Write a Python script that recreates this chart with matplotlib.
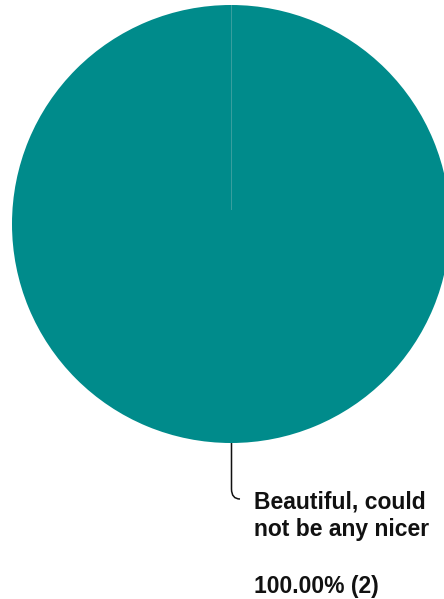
import textwrap
import matplotlib
matplotlib.use("Agg")
import matplotlib.pyplot as plt
from matplotlib.path import Path
from matplotlib.patches import PathPatch

# Survey response counts
categories = ["Beautiful, could not be any nicer"]
counts = [2]
colors = ["#008B8B"]

W, H = 444, 599
fig = plt.figure(figsize=(W / 100, H / 100), dpi=100)
ax = fig.add_axes([0, 0, 1, 1])

cx, cy, r = 231, 224, 219
total = sum(counts)
wedges, _ = ax.pie(counts, colors=colors, startangle=90, counterclock=True,
                   center=(cx, cy), radius=r, frame=True,
                   wedgeprops=dict(linewidth=0))
ax.set_xlim(0, W)
ax.set_ylim(H, 0)
ax.set_aspect("equal")
ax.axis("off")

# faint seam at the slice start
ax.plot([cx, cx], [cy - 15, cy - r], color="#3a9f9f", lw=0.7, zorder=3)

# leader line from the bottom of the pie to the label
verts = [(cx + 0.5, cy + r), (cx + 0.5, 489), (cx + 0.5, 499), (cx + 9, 499)]
codes = [Path.MOVETO, Path.LINETO, Path.CURVE3, Path.CURVE3]
ax.add_patch(PathPatch(Path(verts, codes), fill=False, edgecolor="#111111", lw=1.1))

label_lines = textwrap.wrap(categories[0], 16)
pct = counts[0] / total * 100
font = dict(family=["Liberation Sans", "DejaVu Sans"], weight="bold", fontsize=16.5,
            color="#111111", va="baseline", ha="left")
baselines = [508, 536]
for line, yb in zip(label_lines, baselines):
    ax.text(254, yb, line, **font)
ax.text(254, 593, f"{pct:.2f}% ({counts[0]})", **font)

fig.savefig("out.png", dpi=100)
